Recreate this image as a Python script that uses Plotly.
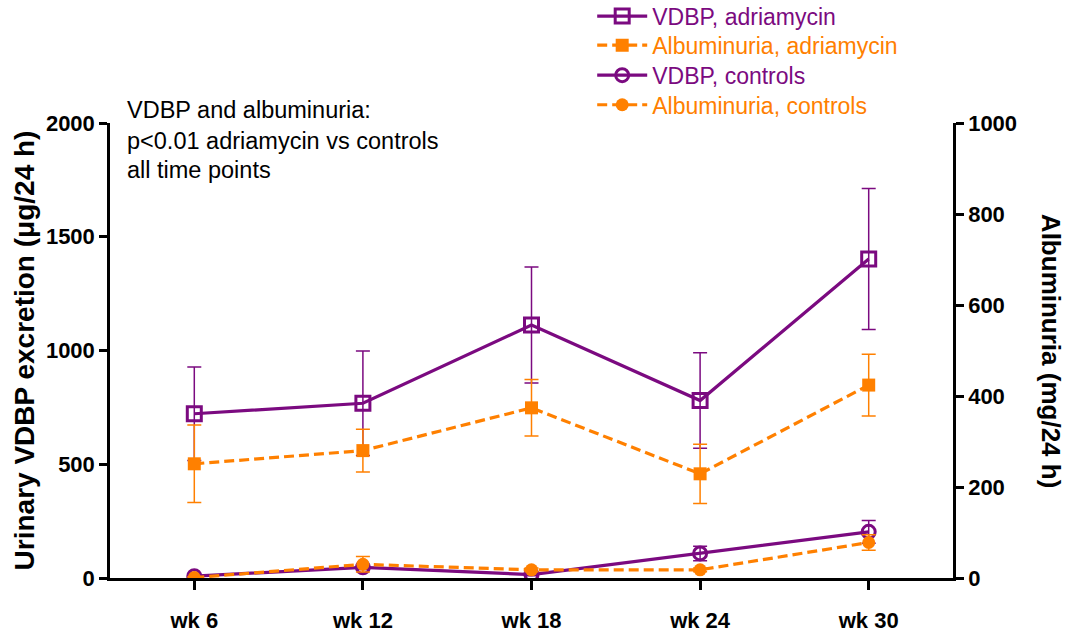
import plotly.graph_objects as go

weeks = ["wk 6", "wk 12", "wk 18", "wk 24", "wk 30"]
vdbp_adr = [722, 768, 1112, 780, 1402]
vdbp_adr_err = [205, 230, 255, 210, 310]
alb_adr = [251, 280, 374, 229, 424]
alb_adr_err = [85, 47, 62, 65, 68]
vdbp_ctrl = [8, 47, 15, 108, 203]
vdbp_ctrl_err = [5, 10, 5, 32, 50]
alb_ctrl = [1, 30, 18, 18, 78]
alb_ctrl_err = [2, 17, 4, 4, 17]

PURPLE = "#7B0A80"
ORANGE = "#FF8000"
FONT = "Arial, Liberation Sans, sans-serif"
DASH = "10px,5px"

def lab(text, color):
    return f"<span style='color:{color}'>{text}</span>"

fig = go.Figure()

fig.add_trace(go.Scatter(
    x=weeks, y=vdbp_adr, name=lab("VDBP, adriamycin", PURPLE), legend="legend",
    mode="lines+markers",
    line=dict(color=PURPLE, width=3.2),
    marker=dict(symbol="square-open", size=14, color=PURPLE, line=dict(width=3, color=PURPLE)),
    error_y=dict(type="data", array=vdbp_adr_err, color=PURPLE, thickness=1.5, width=7),
))
fig.add_trace(go.Scatter(
    x=weeks, y=vdbp_ctrl, name=lab("VDBP, controls", PURPLE), legend="legend3",
    mode="lines+markers",
    line=dict(color=PURPLE, width=3.2),
    marker=dict(symbol="circle-open", size=13, color=PURPLE, line=dict(width=3, color=PURPLE)),
    error_y=dict(type="data", array=vdbp_ctrl_err, color=PURPLE, thickness=1.5, width=7),
))
fig.add_trace(go.Scatter(
    x=weeks, y=alb_adr, name=lab("Albuminuria, adriamycin", ORANGE), legend="legend2",
    yaxis="y2", mode="lines+markers",
    line=dict(color=ORANGE, width=3.2, dash=DASH),
    marker=dict(symbol="square", size=13, color=ORANGE),
    error_y=dict(type="data", array=alb_adr_err, color=ORANGE, thickness=1.5, width=7),
))
fig.add_trace(go.Scatter(
    x=weeks, y=alb_ctrl, name=lab("Albuminuria, controls", ORANGE), legend="legend4",
    yaxis="y2", mode="lines+markers",
    line=dict(color=ORANGE, width=3.2, dash=DASH),
    marker=dict(symbol="circle", size=13, color=ORANGE),
    error_y=dict(type="data", array=alb_ctrl_err, color=ORANGE, thickness=1.5, width=7),
))

tickfont = dict(family=FONT, size=22, color="black", weight="bold")
txtfont = dict(family=FONT, size=23.5, color="black")

def leg(y):
    return dict(x=0.572, y=y, xanchor="left", yanchor="middle",
                font=dict(family=FONT, size=23), itemwidth=50,
                bgcolor="rgba(0,0,0,0)")

fig.update_layout(
    width=1069, height=634,
    margin=dict(l=110, r=116, t=123, b=56, autoexpand=False),
    plot_bgcolor="white", paper_bgcolor="white",
    font=dict(family=FONT, color="black"),
    showlegend=True,
    legend=leg(1.235),
    legend2=leg(1.171),
    legend3=leg(1.105),
    legend4=leg(1.04),
    xaxis=dict(
        type="category", range=[-0.5, 4.5],
        showline=True, linecolor="black", linewidth=2.5,
        ticks="outside", ticklen=9, tickwidth=2.5, tickcolor="black",
        showgrid=False, zeroline=False,
        tickfont=tickfont, ticklabelstandoff=12,
    ),
    yaxis=dict(
        range=[0, 2000], tickvals=[0, 500, 1000, 1500, 2000],
        showline=True, linecolor="black", linewidth=2.5,
        ticks="outside", ticklen=8, tickwidth=2.5, tickcolor="black",
        showgrid=False, zeroline=False,
        tickfont=tickfont,
        title=dict(text="Urinary VDBP excretion (μg/24 h)",
                   font=dict(family=FONT, size=28, color="black", weight="bold"), standoff=4),
    ),
    yaxis2=dict(
        range=[0, 1000], tickvals=[0, 200, 400, 600, 800, 1000],
        overlaying="y", side="right",
        showline=True, linecolor="black", linewidth=2.5,
        ticks="outside", ticklen=8, tickwidth=2.5, tickcolor="black",
        showgrid=False, zeroline=False,
        tickfont=tickfont,
    ),
    annotations=[
        dict(text="Albuminuria (mg/24 h)", textangle=90, xref="paper", yref="paper",
             x=1.117, y=0.5, xanchor="center", yanchor="middle", showarrow=False,
             font=dict(family=FONT, size=26, color="black", weight="bold")),
        dict(text="VDBP and albuminuria:", xref="paper", yref="paper",
             x=0.018, y=1.0286, xanchor="left", yanchor="middle", showarrow=False,
             font=txtfont),
        dict(text="p<0.01 adriamycin vs controls", xref="paper", yref="paper",
             x=0.018, y=0.9604, xanchor="left", yanchor="middle", showarrow=False,
             font=txtfont),
        dict(text="all time points", xref="paper", yref="paper",
             x=0.018, y=0.8967, xanchor="left", yanchor="middle", showarrow=False,
             font=txtfont),
    ],
)

fig.write_html("out.html", config={"displayModeBar": False},
               post_script="document.body.style.margin='0px';")
